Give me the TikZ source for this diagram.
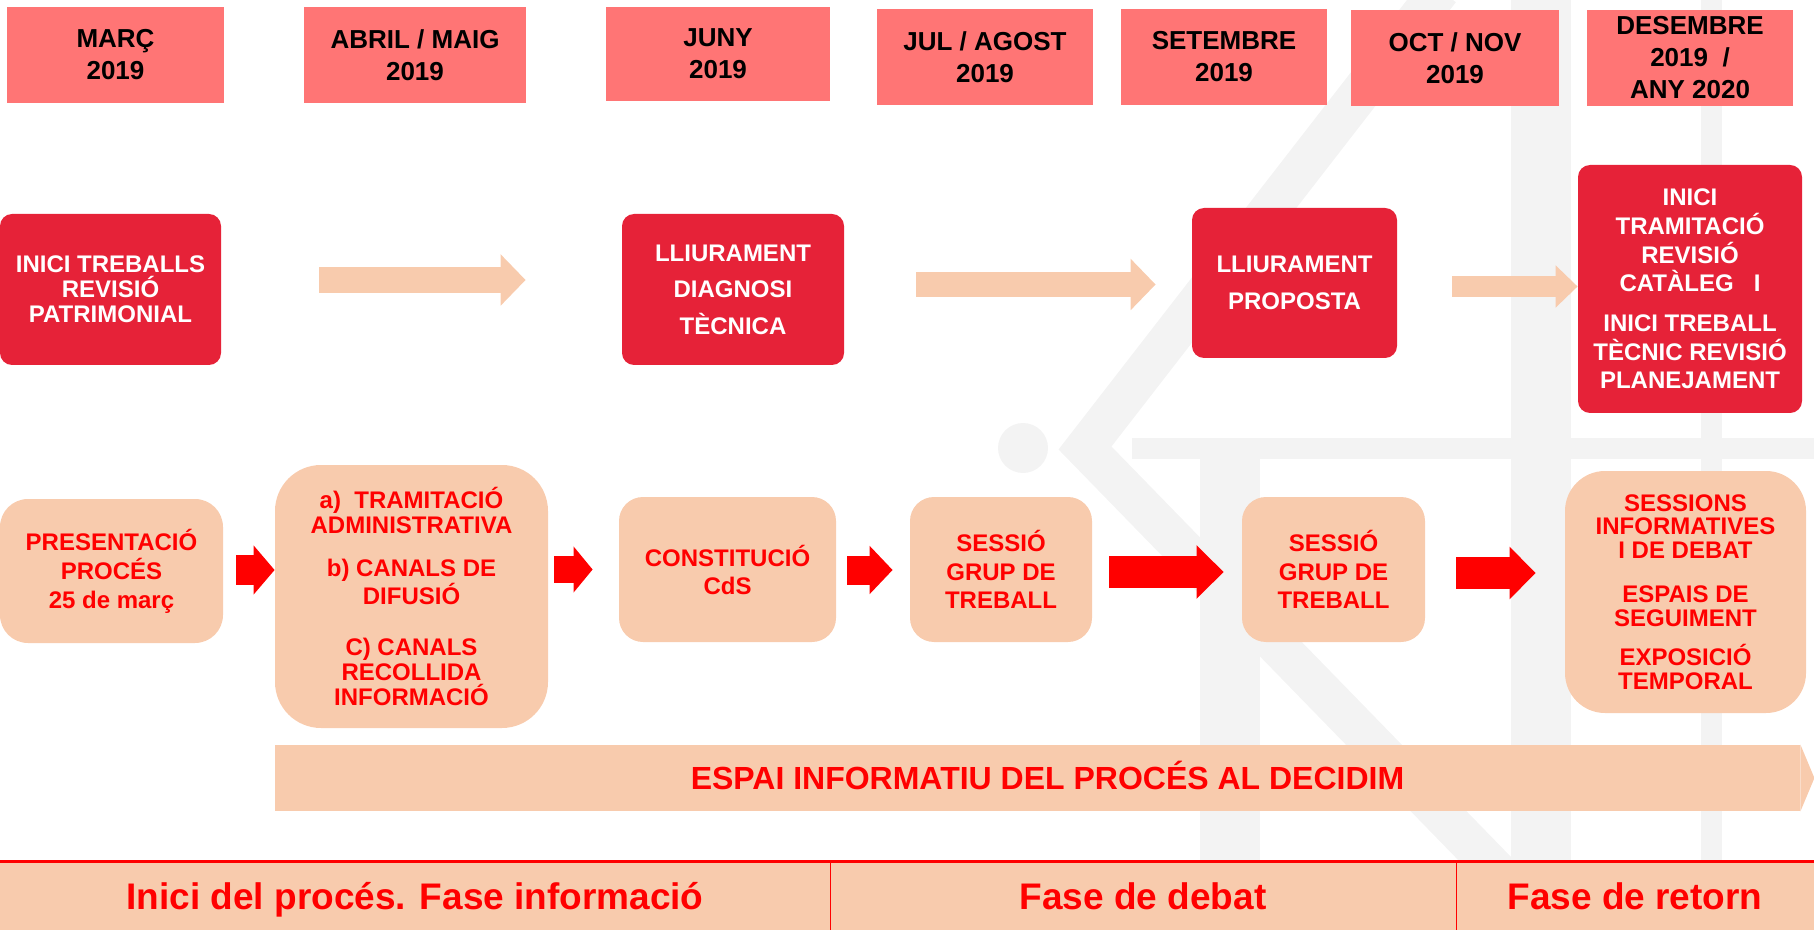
\documentclass[tikz,border=0pt]{standalone}
\usepackage{fontspec}
\setmainfont{Liberation Sans}
\usetikzlibrary{arrows.meta}
\definecolor{mescolor}{RGB}{255,117,117}
\definecolor{fitacolor}{RGB}{230,34,56}
\definecolor{preset}{RGB}{248,203,173}
\definecolor{vermell}{RGB}{255,0,0}
\definecolor{marcaaigua}{RGB}{243,243,243}
\tikzstyle{mes} = [fill=mescolor, text=black, inner sep=0pt, align=center, font=\bfseries\fontsize{13}{16}\selectfont]
\tikzstyle{fita} = [fill=fitacolor, text=white, rounded corners=6pt, inner sep=0pt, align=center, font=\bfseries\fontsize{12}{12.5}\selectfont]
\tikzstyle{pas} = [fill=preset, text=vermell, rounded corners=12pt, inner sep=0pt, align=center, font=\bfseries\fontsize{12}{14.4}\selectfont]
\tikzstyle{fase} = [fill=preset, text=vermell, inner sep=0pt, text height=13.2pt, text depth=0pt, font=\bfseries\fontsize{18.5}{20}\selectfont]
\tikzstyle{fletxaclara} = [draw=preset, line width=13pt, -{Triangle[length=12.5pt, width=25pt]}]
\tikzstyle{fletxavermella} = [draw=vermell, line width=15pt, -{Triangle[length=10.5pt, width=24pt]}]
\tikzstyle{fletxagran} = [draw=vermell, line width=16pt, -{Triangle[length=13.5pt, width=26pt]}]

\begin{document}
\begin{tikzpicture}[x=0.5pt,y=-0.5pt]
	\useasboundingbox (0,0) rectangle (1814,930);
	% marca d'aigua
	\fill[marcaaigua] (1023,448) circle[radius=25];
	\draw[marcaaigua, line width=20pt] (1440,-10) -- (1085,448) -- (1525,900);
	\fill[marcaaigua] (1132,438) rectangle (1814,459);
	\fill[marcaaigua] (1511,0) rectangle (1571,860);
	\fill[marcaaigua] (1701,0) rectangle (1722,930);
	\fill[marcaaigua] (1200,459) rectangle (1260,860);

	% mesos
	\node[mes, minimum width=108.5pt, minimum height=48pt] (marc) at (115.5,55) {MARÇ\\2019};
	\node[mes, minimum width=111pt, minimum height=48pt] (abril) at (415,55) {ABRIL / MAIG\\2019};
	\node[mes, minimum width=112pt, minimum height=47pt] (juny) at (718,54) {JUNY\\2019};
	\node[mes, minimum width=108pt, minimum height=48pt] (juliol) at (985,57) {JUL / AGOST\\2019};
	\node[mes, minimum width=103pt, minimum height=48pt] (setembre) at (1224,57) {SETEMBRE\\2019};
	\node[mes, minimum width=104pt, minimum height=48pt] (octubre) at (1455,58) {OCT / NOV\\2019};
	\node[mes, minimum width=103pt, minimum height=48pt] (desembre) at (1690,58) {DESEMBRE\\2019\ \ /\\ANY 2020};

	% fites
	\node[fita, minimum width=110.5pt, minimum height=75.5pt] (fita1) at (110.5,289.5) {INICI TREBALLS\\REVISIÓ\\PATRIMONIAL};
	\node[fita, font=\bfseries\fontsize{12}{18.3}\selectfont, minimum width=111pt, minimum height=75.5pt] (fita2) at (733,289.5) {LLIURAMENT\\DIAGNOSI\\TÈCNICA};
	\node[fita, font=\bfseries\fontsize{12}{18.4}\selectfont, minimum width=102.5pt, minimum height=75pt] (fita3) at (1294.5,283) {LLIURAMENT\\PROPOSTA};
	\node[fita, font=\bfseries\fontsize{12}{14.3}\selectfont, minimum width=112pt, minimum height=124pt] (fita4) at (1690,289) {INICI\\TRAMITACIÓ\\REVISIÓ\\CATÀLEG\ \ \ I\\[5.6pt]INICI TREBALL\\TÈCNIC REVISIÓ\\PLANEJAMENT};

	\draw[fletxaclara] ([shift={(98,-9.5)}]fita1.east) -- ([shift={(-96,-9.5)}]fita2.west);
	\draw[fletxaclara, line width=12.5pt] ([shift={(72,-5)}]fita2.east) -- ([shift={(-36,1.5)}]fita3.west);
	\draw[fletxaclara, line width=10.5pt, -{Triangle[length=11pt, width=20.5pt]}] ([shift={(55,3.5)}]fita3.east) -- ([shift={(0,-2.5)}]fita4.west);

	% passos
	\node[pas, rounded corners=14pt, font=\bfseries\fontsize{12}{14.5}\selectfont, minimum width=111.5pt, minimum height=72pt] (pas1) at (111.5,571) {PRESENTACIÓ\\PROCÉS\\25 de març};
	\node[pas, rounded corners=23pt, font=\bfseries\fontsize{12}{12.5}\selectfont, minimum width=136.5pt, minimum height=131.5pt] (pas2) at (411.5,596.5) {a)\ \ TRAMITACIÓ\\ADMINISTRATIVA\\[9pt]b) CANALS DE\\DIFUSIÓ\\[13pt]C) CANALS\\RECOLLIDA\\INFORMACIÓ};
	\node[pas, font=\bfseries\fontsize{12}{14}\selectfont, minimum width=108.5pt, minimum height=72.5pt] (pas3) at (727.5,569.5) {CONSTITUCIÓ\\CdS};
	\node[pas, minimum width=91pt, minimum height=72.5pt] (pas4) at (1001,569.5) {SESSIÓ\\GRUP DE\\TREBALL};
	\node[pas, minimum width=91.5pt, minimum height=72.5pt] (pas5) at (1333.5,569.5) {SESSIÓ\\GRUP DE\\TREBALL};
	\node[pas, rounded corners=20pt, font=\bfseries\fontsize{12}{11.9}\selectfont, minimum width=120.5pt, minimum height=121pt] (pas6) at (1685.5,592) {SESSIONS\\INFORMATIVES\\I DE DEBAT\\[9.9pt]ESPAIS DE\\SEGUIMENT\\[7.9pt]EXPOSICIÓ\\TEMPORAL};

	\draw[fletxavermella] ([shift={(13,-1)}]pas1.east) -- ([shift={(0,-26.5)}]pas2.west);
	\draw[fletxavermella, line width=13.5pt, -{Triangle[length=9.5pt, width=22.5pt]}] ([shift={(6,-27)}]pas2.east) -- ([shift={(-26,0)}]pas3.west);
	\draw[fletxavermella, line width=14.5pt, -{Triangle[length=11.5pt, width=23.5pt]}] ([shift={(11,0.5)}]pas3.east) -- ([shift={(-17,0.5)}]pas4.west);
	\draw[fletxagran] ([shift={(17,2.5)}]pas4.east) -- ([shift={(-18,2.5)}]pas5.west);
	\draw[fletxagran, -{Triangle[length=13pt, width=25.5pt]}] ([shift={(31,3.5)}]pas5.east) -- ([shift={(-29,-19)}]pas6.west);

	% espai decidim
	\node[fase, font=\bfseries\fontsize{16}{18}\selectfont, text height=11.5pt, minimum width=762.5pt, minimum height=33pt] (espai) at (1037.5,778) {\hspace{10pt}ESPAI INFORMATIU DEL PROCÉS AL DECIDIM};
	\fill[preset] (espai.north east) -- ([xshift=7pt]espai.east) -- (espai.south east) -- cycle;

	% fases
	\node[fase, minimum width=415pt, minimum height=34pt] (fase1) at (415,896) {Inici del procés. Fase informació};
	\node[fase, minimum width=313pt, minimum height=34pt] (fase2) at (1143,896) {Fase de debat};
	\node[fase, minimum width=179pt, minimum height=34pt] (fase3) at (1635,896) {Fase de retorn};
	\draw[vermell, line width=1.5pt] (fase1.north west) -- (fase3.north east);
	\draw[vermell, line width=0.75pt] (fase1.north east) -- (fase1.south east);
	\draw[vermell, line width=0.75pt] (fase2.north east) -- (fase2.south east);
\end{tikzpicture}
\end{document}
